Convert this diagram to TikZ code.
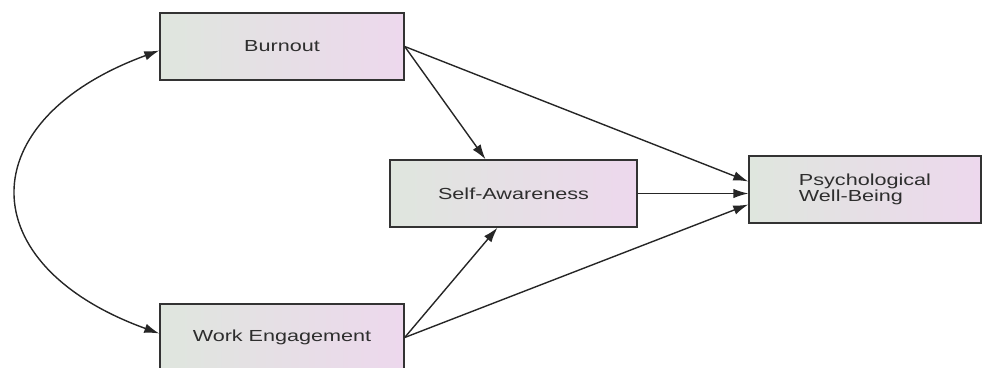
\documentclass[tikz,border=0pt]{standalone}
\usepackage{fontspec}
\usetikzlibrary{arrows.meta}
\newfontfamily\boxfont[FakeStretch=1.35]{Liberation Sans}
\definecolor{boxleft}{HTML}{DFE6DE}
\definecolor{boxright}{HTML}{EDD8ED}
\definecolor{boxline}{HTML}{333333}
\definecolor{boxtext}{HTML}{2E2E2E}
\tikzset{
    varbox/.style={draw=boxline, line width=1.4pt, left color=boxleft, right color=boxright,
        minimum width=244pt, minimum height=67pt, inner sep=0pt,
        text=boxtext, font=\boxfont\fontsize{16}{16}\selectfont},
    path/.style={draw=black!85, line width=1.4pt, -{Latex[length=15pt,width=9.5pt]}}
}

\begin{document}
\begin{tikzpicture}[x=1pt, y=-1pt]
    \useasboundingbox (0,0) rectangle (983,367);
    \clip (0,0) rectangle (983,367);

    \node[varbox] (burnout) at (282,46.5) {Burnout};
    \node[varbox, minimum width=247pt] (selfaware) at (513.5,193.5) {Self-Awareness};
    \node[varbox, minimum width=232pt, align=left] (wellbeing) at (865,189.5) {Psychological\\Well-Being};
    \node[varbox] (engage) at (282,337.5) {Work Engagement};

    % covariance between the two predictors
    \draw[draw=black!85, line width=1.4pt, {Latex[length=15pt,width=9.5pt]}-{Latex[length=15pt,width=9.5pt]}]
        ([yshift=-4pt]burnout.west) .. controls (-30,120) and (-30,265) .. ([yshift=4pt]engage.west);

    \draw[path] (burnout.east) -- ([xshift=-28pt]selfaware.north);
    \draw[path] (burnout.east) -- ([yshift=8pt]wellbeing.west);
    \draw[path] (selfaware.east) -- (selfaware.east -| wellbeing.west);
    \draw[path] (engage.east) -- ([xshift=-16pt]selfaware.south);
    \draw[path] (engage.east) -- ([yshift=-15pt]wellbeing.west);
\end{tikzpicture}
\end{document}
